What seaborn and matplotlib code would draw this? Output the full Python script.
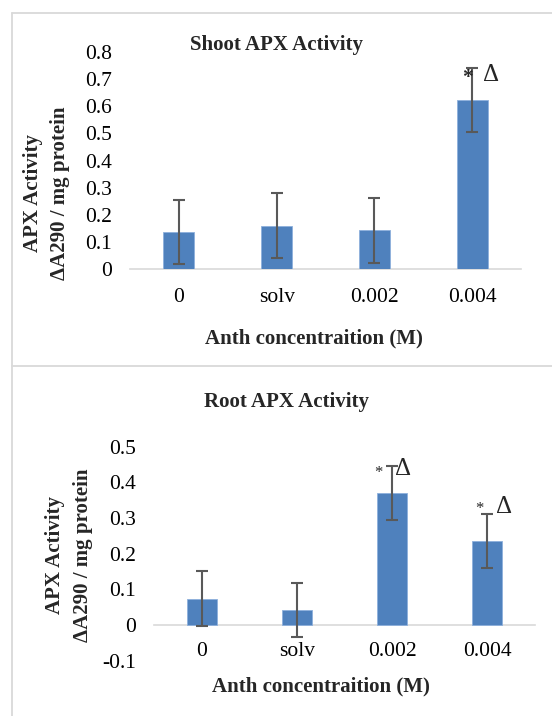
import numpy as np
import pandas as pd
import matplotlib
matplotlib.use("Agg")
import matplotlib.pyplot as plt
import seaborn as sns
from matplotlib.lines import Line2D

# ---------------- data ----------------
categories = ["0", "solv", "0.002", "0.004"]
shoot_values = [0.138, 0.161, 0.143, 0.623]
shoot_errors = [0.118, 0.120, 0.119, 0.118]
root_values = [0.074, 0.043, 0.370, 0.236]
root_errors = [0.076, 0.076, 0.076, 0.076]
shoot_yticks = [0, 0.1, 0.2, 0.3, 0.4, 0.5, 0.6, 0.7, 0.8]
root_yticks = [-0.1, 0, 0.1, 0.2, 0.3, 0.4, 0.5]
shoot_significant = ["0.004"]
root_significant = ["0.002", "0.004"]
titles = ["Shoot APX Activity", "Root APX Activity"]
xlabel_text = "Anth concentraition (M)"
ylabel_lines = ["APX Activity", "\u0394A290 / mg protein"]

# ---------------- style ----------------
sns.set_style("white")
plt.rcParams["font.family"] = ["Liberation Serif", "DejaVu Serif"]

W, H = 552, 716
BAR = "#4F81BD"
ERR = "#595959"
GRID = "#D9D9D9"

fig = plt.figure(figsize=(W / 100, H / 100), dpi=100)


def fx(x):
    return x / W


def fy(y):
    return 1 - y / H


# frame lines (chart area borders)
for (x0, y0, x1, y1) in [(12, 13.3, 552, 13.3), (12, 13.3, 12, 716), (12, 365.7, 552, 365.7)]:
    fig.add_artist(Line2D([fx(x0), fx(x1)], [fy(y0), fy(y1)], transform=fig.transFigure,
                          color=GRID, lw=1.3))


def draw_panel(rect_px, values, errors, yticks, ylim, xpad, significant, marks):
    left, right, top, bottom = rect_px
    ax = fig.add_axes([fx(left), fy(bottom), fx(right - left), (bottom - top) / H])
    df = pd.DataFrame({"cat": categories, "val": values, "err": errors})
    sns.barplot(data=df, x="cat", y="val", ax=ax, color=BAR, saturation=1,
                width=0.317, errorbar=None, edgecolor="#8DB0DC", linewidth=0.6, zorder=2)
    ax.errorbar(np.arange(len(categories)), df["val"], yerr=df["err"], fmt="none",
                ecolor=ERR, elinewidth=1.5, capsize=4.3, capthick=1.5, zorder=3)
    ax.set_xlim(-0.5, len(categories) - 0.5)
    ax.set_ylim(*ylim)
    ax.set_yticks(yticks, [f"{v:g}" for v in yticks])
    ax.set_xticks(range(len(categories)), categories)
    ax.tick_params(axis="x", length=0, pad=xpad, labelsize=15.5, colors="#000000")
    ax.tick_params(axis="y", length=0, pad=13.2, labelsize=15.5, colors="#000000")
    ax.set_xlabel("")
    ax.set_ylabel("")
    for s in ["top", "right", "left"]:
        ax.spines[s].set_visible(False)
    ax.spines["bottom"].set_position(("data", 0))
    ax.spines["bottom"].set_color(GRID)
    ax.spines["bottom"].set_linewidth(1.2)
    ax.spines["bottom"].set_zorder(1)
    ax.set_facecolor("none")
    ax.grid(False)
    for cat, (sdx, sdy, ssize, sweight, ddx, ddy, dsize) in zip(significant, marks):
        i = categories.index(cat)
        top_err = values[i] + errors[i]
        ax.annotate("*", xy=(i, top_err), xytext=(sdx, sdy), textcoords="offset pixels",
                    ha="center", va="baseline", fontsize=ssize, fontweight=sweight)
        ax.annotate("\u0394", xy=(i, top_err), xytext=(ddx, ddy), textcoords="offset pixels",
                    ha="center", va="baseline", fontsize=dsize)
    return ax


# shoot panel
ax1 = draw_panel((130, 521, 52, 269.3), shoot_values, shoot_errors, shoot_yticks, (0, 0.8), 13.8,
                 shoot_significant, [(-5, -15.4, 15.5, "bold", 18.7, -12.7, 18)])
# root panel
ax2 = draw_panel((154, 535, 446.5, 660.7), root_values, root_errors, root_yticks, (-0.1, 0.5), 12.6,
                 root_significant, [(-14, -11.1, 12, "normal", 11.3, -9.3, 18),
                                    (-8.5, 0.5, 12, "normal", 16.7, 0.3, 18)])

# titles, axis labels
fig.text(fx(276), fy(50), titles[0], ha="center", va="baseline", fontsize=15, fontweight="bold")
fig.text(fx(287), fy(407), titles[1], ha="center", va="baseline", fontsize=15, fontweight="bold")
fig.text(fx(314), fy(343.3), xlabel_text, ha="center", va="baseline", fontsize=15, fontweight="bold")
fig.text(fx(321), fy(691.7), xlabel_text, ha="center", va="baseline", fontsize=15, fontweight="bold")
for (bx1, bx2, cy) in [(38, 65, 193), (60, 88, 555)]:
    fig.text(fx(bx1), fy(cy), ylabel_lines[0], rotation=90, rotation_mode="anchor",
             ha="center", va="baseline", fontsize=15, fontweight="bold")
    fig.text(fx(bx2), fy(cy), ylabel_lines[1], rotation=90, rotation_mode="anchor",
             ha="center", va="baseline", fontsize=15, fontweight="bold")

fig.savefig("out.png", dpi=100, facecolor="white")
